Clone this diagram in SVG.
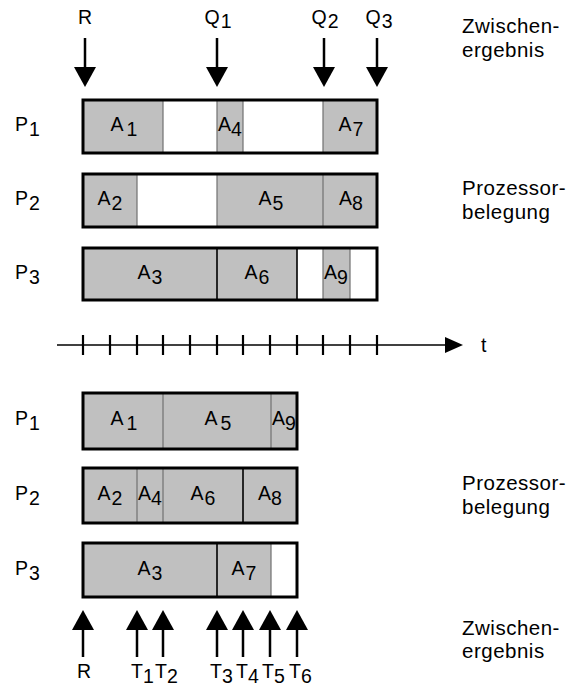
<svg xmlns="http://www.w3.org/2000/svg" width="571" height="688" viewBox="0 0 571 688">
<style>
text{font-family:"Liberation Sans",Arial,sans-serif;font-size:19.5px;fill:#000}
.lab{letter-spacing:0.5px;font-size:20.5px}
.g{fill:#c0c0c0}
.w{fill:#fff}
.box{fill:none;stroke:#000;stroke-width:3}
.dv{stroke:#707070;stroke-width:1.2}
.db{stroke:#000;stroke-width:1.6}
.arr{stroke:#000;stroke-width:2.5;fill:none}
</style>
<defs>
<marker id="ah" viewBox="0 0 20 22" markerWidth="20" markerHeight="22" refX="0" refY="11" orient="auto" markerUnits="userSpaceOnUse"><path d="M0,0 L20,11 L0,22 Z" fill="#000"/></marker>
<marker id="ax" viewBox="0 0 18 16" markerWidth="18" markerHeight="16" refX="0" refY="8" orient="auto" markerUnits="userSpaceOnUse"><path d="M0,0 L18,8 L0,16 Z" fill="#000"/></marker>
</defs>

<g id="connectors">
<line class="arr" x1="85" y1="38" x2="85" y2="67" marker-end="url(#ah)"/>
<line class="arr" x1="217" y1="38" x2="217" y2="67" marker-end="url(#ah)"/>
<line class="arr" x1="324" y1="38" x2="324" y2="67" marker-end="url(#ah)"/>
<line class="arr" x1="377" y1="38" x2="377" y2="67" marker-end="url(#ah)"/>
<line class="arr" x1="83" y1="657" x2="83" y2="630" marker-end="url(#ah)"/>
<line class="arr" x1="137" y1="657" x2="137" y2="630" marker-end="url(#ah)"/>
<line class="arr" x1="163" y1="657" x2="163" y2="630" marker-end="url(#ah)"/>
<line class="arr" x1="217" y1="657" x2="217" y2="630" marker-end="url(#ah)"/>
<line class="arr" x1="243" y1="657" x2="243" y2="630" marker-end="url(#ah)"/>
<line class="arr" x1="270" y1="657" x2="270" y2="630" marker-end="url(#ah)"/>
<line class="arr" x1="297" y1="657" x2="297" y2="630" marker-end="url(#ah)"/>
</g>

<g id="axis">
<line x1="57" y1="345" x2="445" y2="345" stroke="#000" stroke-width="1.5" marker-end="url(#ax)"/>
<g stroke="#000" stroke-width="2.2">
<line x1="83" y1="335" x2="83" y2="355"/><line x1="110" y1="335" x2="110" y2="355"/>
<line x1="137" y1="335" x2="137" y2="355"/><line x1="163" y1="335" x2="163" y2="355"/>
<line x1="190" y1="335" x2="190" y2="355"/><line x1="217" y1="335" x2="217" y2="355"/>
<line x1="243" y1="335" x2="243" y2="355"/><line x1="270" y1="335" x2="270" y2="355"/>
<line x1="297" y1="335" x2="297" y2="355"/><line x1="323" y1="335" x2="323" y2="355"/>
<line x1="350" y1="335" x2="350" y2="355"/><line x1="377" y1="335" x2="377" y2="355"/>
</g>
<text x="481" y="352">t</text>
</g>

<g id="top-labels">
<text x="85" y="24" text-anchor="middle">R</text>
<text x="218" y="24" text-anchor="middle">Q<tspan dx="1" dy="4">1</tspan></text>
<text x="325" y="24" text-anchor="middle">Q<tspan dx="1" dy="4">2</tspan></text>
<text x="379" y="24" text-anchor="middle">Q<tspan dx="1" dy="4">3</tspan></text>
<text class="lab" x="462" y="33">Zwischen-</text>
<text class="lab" x="462" y="57">ergebnis</text>
<text class="lab" x="462" y="195">Prozessor-</text>
<text class="lab" x="462" y="219">belegung</text>
</g>

<g id="top-P1">
<text x="15" y="131">P<tspan dx="1" dy="5">1</tspan></text>
<rect class="g" x="83" y="100" width="80" height="53"/>
<rect class="w" x="163" y="100" width="54" height="53"/>
<rect class="g" x="217" y="100" width="26" height="53"/>
<rect class="w" x="243" y="100" width="80" height="53"/>
<rect class="g" x="323" y="100" width="54" height="53"/>
<line class="dv" x1="163" y1="100" x2="163" y2="153"/>
<line class="dv" x1="217" y1="100" x2="217" y2="153"/>
<line class="dv" x1="243" y1="100" x2="243" y2="153"/>
<line class="dv" x1="323" y1="100" x2="323" y2="153"/>
<rect class="box" x="83" y="100" width="294" height="53"/>
<text x="124" y="131" text-anchor="middle">A<tspan dx="3" dy="5">1</tspan></text>
<text x="230" y="131" text-anchor="middle">A<tspan dy="5">4</tspan></text>
<text x="351" y="131" text-anchor="middle">A<tspan dx="1" dy="5">7</tspan></text>
</g>

<g id="top-P2">
<text x="15" y="205">P<tspan dx="1" dy="5">2</tspan></text>
<rect class="g" x="83" y="174" width="54" height="53"/>
<rect class="w" x="137" y="174" width="80" height="53"/>
<rect class="g" x="217" y="174" width="160" height="53"/>
<line class="dv" x1="137" y1="174" x2="137" y2="227"/>
<line class="dv" x1="217" y1="174" x2="217" y2="227"/>
<line class="dv" x1="323" y1="174" x2="323" y2="227"/>
<rect class="box" x="83" y="174" width="294" height="53"/>
<text x="110" y="205" text-anchor="middle">A<tspan dx="1" dy="5">2</tspan></text>
<text x="271" y="205" text-anchor="middle">A<tspan dx="1" dy="5">5</tspan></text>
<text x="351" y="205" text-anchor="middle">A<tspan dy="5">8</tspan></text>
</g>

<g id="top-P3">
<text x="15" y="279">P<tspan dx="1" dy="5">3</tspan></text>
<rect class="g" x="83" y="248" width="214" height="52"/>
<rect class="w" x="297" y="248" width="26" height="52"/>
<rect class="g" x="323" y="248" width="27" height="52"/>
<rect class="w" x="350" y="248" width="27" height="52"/>
<line class="db" x1="217" y1="248" x2="217" y2="300"/>
<line class="db" x1="297" y1="248" x2="297" y2="300"/>
<line class="dv" x1="323" y1="248" x2="323" y2="300"/>
<line class="dv" x1="350" y1="248" x2="350" y2="300"/>
<rect class="box" x="83" y="248" width="294" height="52"/>
<text x="150" y="279" text-anchor="middle">A<tspan dx="1" dy="5">3</tspan></text>
<text x="257" y="279" text-anchor="middle">A<tspan dx="1" dy="5">6</tspan></text>
<text x="336" y="279" text-anchor="middle">A<tspan dy="5">9</tspan></text>
</g>

<g id="bottom-P1">
<text x="15" y="425">P<tspan dx="1" dy="5">1</tspan></text>
<rect class="g" x="83" y="393" width="214" height="56"/>
<line class="dv" x1="163" y1="393" x2="163" y2="449"/>
<line class="dv" x1="271" y1="393" x2="271" y2="449"/>
<rect class="box" x="83" y="393" width="214" height="56"/>
<text x="124" y="425" text-anchor="middle">A<tspan dx="3" dy="5">1</tspan></text>
<text x="218" y="425" text-anchor="middle">A<tspan dx="3" dy="5">5</tspan></text>
<text x="284" y="425" text-anchor="middle">A<tspan dy="5">9</tspan></text>
</g>

<g id="bottom-P2">
<text x="15" y="500">P<tspan dx="1" dy="5">2</tspan></text>
<rect class="g" x="83" y="468" width="214" height="55"/>
<line class="dv" x1="137" y1="468" x2="137" y2="523"/>
<line class="dv" x1="163" y1="468" x2="163" y2="523"/>
<line class="db" x1="243" y1="468" x2="243" y2="523"/>
<rect class="box" x="83" y="468" width="214" height="55"/>
<text x="110" y="500" text-anchor="middle">A<tspan dx="1" dy="5">2</tspan></text>
<text x="150" y="500" text-anchor="middle">A<tspan dy="5">4</tspan></text>
<text x="203" y="500" text-anchor="middle">A<tspan dx="1" dy="5">6</tspan></text>
<text x="270" y="500" text-anchor="middle">A<tspan dy="5">8</tspan></text>
</g>

<g id="bottom-P3">
<text x="15" y="575">P<tspan dx="1" dy="5">3</tspan></text>
<rect class="g" x="83" y="543" width="188" height="54"/>
<rect class="w" x="271" y="543" width="26" height="54"/>
<line class="db" x1="217" y1="543" x2="217" y2="597"/>
<line class="dv" x1="271" y1="543" x2="271" y2="597"/>
<rect class="box" x="83" y="543" width="214" height="54"/>
<text x="150" y="575" text-anchor="middle">A<tspan dx="1" dy="5">3</tspan></text>
<text x="244" y="575" text-anchor="middle">A<tspan dx="1" dy="5">7</tspan></text>
</g>

<g id="bottom-labels">
<text x="84" y="678" text-anchor="middle">R</text>
<text x="131" y="678">T<tspan dy="5">1</tspan></text>
<text x="155" y="678">T<tspan dy="5">2</tspan></text>
<text x="210" y="678">T<tspan dy="5">3</tspan></text>
<text x="236" y="678">T<tspan dy="5">4</tspan></text>
<text x="262" y="678">T<tspan dy="5">5</tspan></text>
<text x="289" y="678">T<tspan dy="5">6</tspan></text>
<text class="lab" x="462" y="490">Prozessor-</text>
<text class="lab" x="462" y="514">belegung</text>
<text class="lab" x="462" y="635">Zwischen-</text>
<text class="lab" x="462" y="658">ergebnis</text>
</g>
</svg>
